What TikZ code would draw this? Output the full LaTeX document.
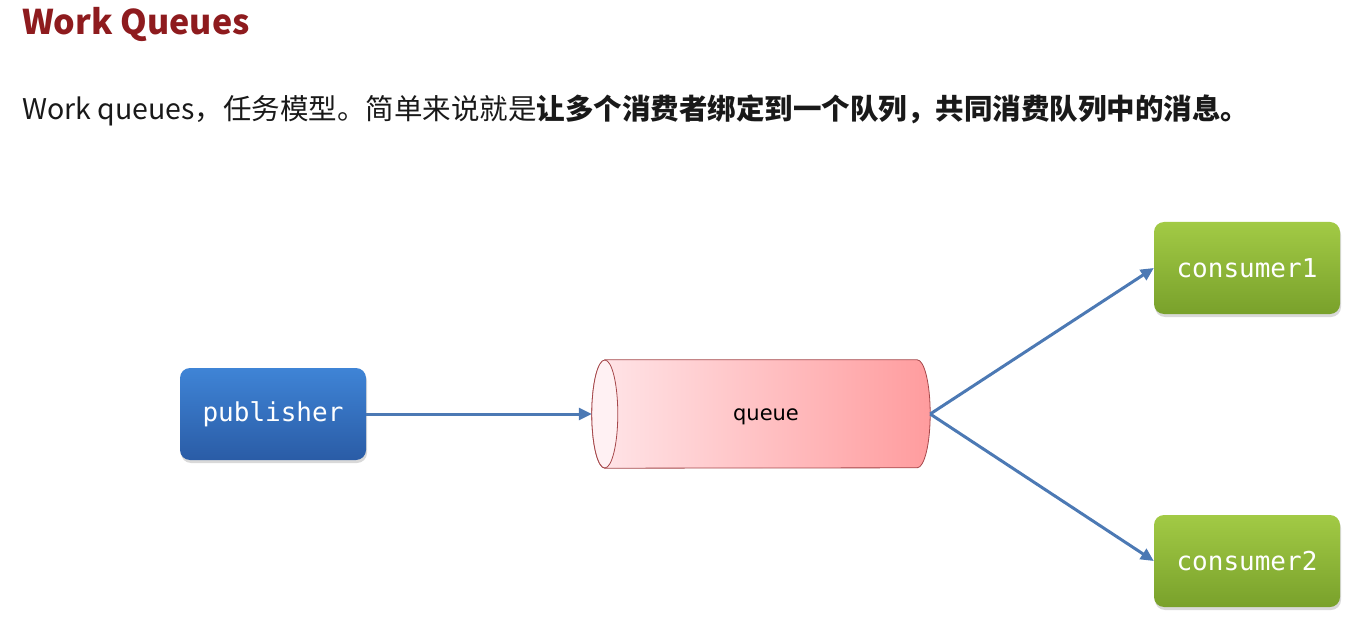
\documentclass[tikz,border=0pt]{standalone}
\usepackage{fontspec}
\setmainfont{Noto Sans CJK SC}
\newfontfamily\monofont{DejaVu Sans Mono}
\newfontfamily\labelfont{DejaVu Sans}
\usetikzlibrary{arrows.meta,shadows,backgrounds}

\definecolor{titlered}{HTML}{8E1B1E}
\definecolor{pubtop}{HTML}{3F84D6}
\definecolor{pubbot}{HTML}{2A5CA6}
\definecolor{contop}{HTML}{A2CA45}
\definecolor{conbot}{HTML}{79A12B}
\definecolor{queueleft}{HTML}{FFE6E9}
\definecolor{queueright}{HTML}{FF9C9E}
\definecolor{queuecap}{HTML}{FFF1F3}
\definecolor{queueline}{HTML}{A5474A}
\definecolor{arrowblue}{HTML}{4C79B4}

\tikzstyle{box}=[rounded corners=10pt,minimum width=186pt,minimum height=92pt,inner sep=0pt,text=white,font=\monofont\fontsize{26}{30}\selectfont,drop shadow={opacity=0.3,shadow xshift=1pt,shadow yshift=-3pt}]
\tikzstyle{pub}=[box,top color=pubtop,bottom color=pubbot]
\tikzstyle{con}=[box,top color=contop,bottom color=conbot]
\tikzstyle{queuebox}=[minimum width=338pt,minimum height=108pt,inner sep=0pt,font=\labelfont\fontsize{21}{26}\selectfont]
\tikzstyle{flow}=[arrowblue,line width=3pt,-{Triangle[length=13pt,width=12pt]}]

\begin{document}
\begin{tikzpicture}[x=1pt,y=-1pt]
    \useasboundingbox (0,0) rectangle (1365,636);

    \node (title)[anchor=base west,inner sep=0pt,text=titlered,font=\bfseries\fontsize{34}{40}\selectfont] at (22,35) {Work Queues};
    \node (intro)[anchor=base west,inner sep=0pt,text=black!90,font=\fontsize{28.5}{34}\selectfont] at (22,120) {Work queues，任务模型。简单来说就是\textbf{让多个消费者绑定到一个队列，共同消费队列中的消息。}};

    \node (publisher)[pub] at (273,414) {publisher};
    \node (queue)[queuebox] at (761,414) {\hspace*{10pt}\raisebox{-6pt}[0pt][0pt]{queue}};
    \node (consumer1)[con] at (1247,268) {consumer1};
    \node (consumer2)[con] at (1247,561) {consumer2};

    % cylinder body and left cap
    \begin{scope}[on background layer]
    \shade[left color=queueleft,right color=queueright,draw=queueline,line width=0.8pt]
        ([xshift=13pt]queue.north west) -- ([xshift=-13pt]queue.north east)
        arc[start angle=-90,end angle=90,x radius=13,y radius=54]
        -- ([xshift=13pt]queue.south west)
        arc[start angle=90,end angle=270,x radius=13,y radius=54] -- cycle;
    \filldraw[fill=queuecap,draw=queueline,line width=0.8pt] ([xshift=13pt]queue.west) ellipse[x radius=13,y radius=54];
    \end{scope}

    \draw[flow] (publisher) -- (queue);
    \draw[flow] (queue.east) -- (consumer1.west);
    \draw[flow] (queue.east) -- (consumer2.west);
\end{tikzpicture}
\end{document}
